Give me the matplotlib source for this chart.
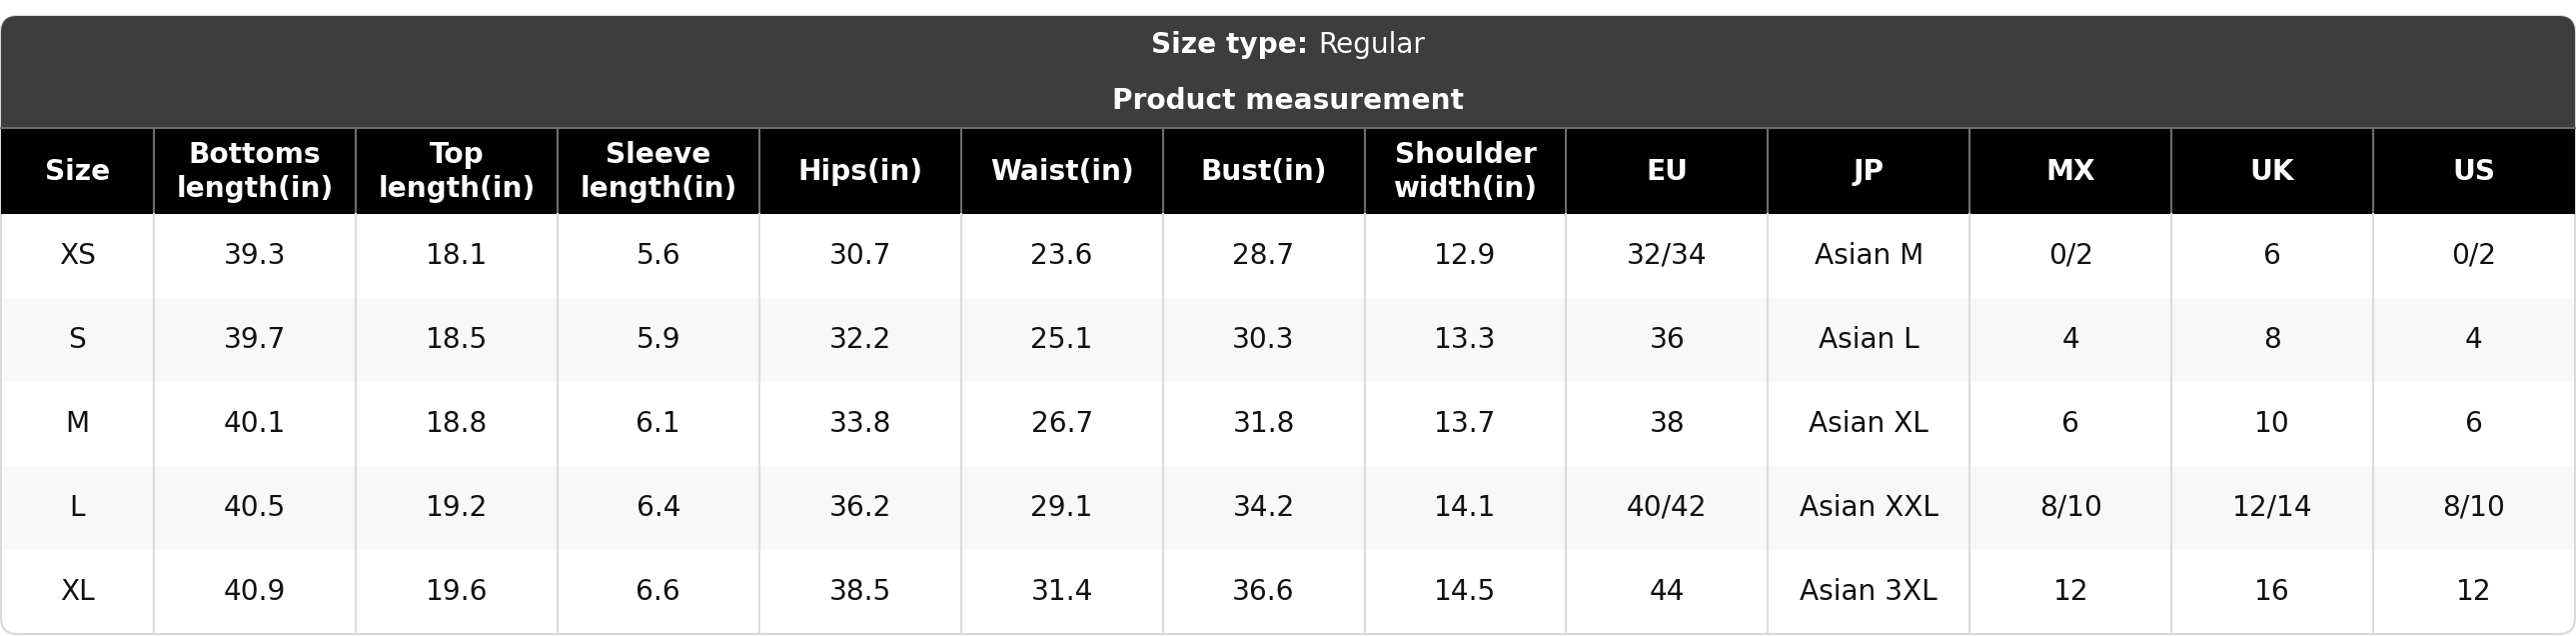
import matplotlib
matplotlib.use("Agg")
import matplotlib.pyplot as plt
from matplotlib.patches import Rectangle, FancyBboxPatch

# table content
size_type = "Regular"
section_title = "Product measurement"
columns = ["Size", "Bottoms\nlength(in)", "Top\nlength(in)", "Sleeve\nlength(in)",
           "Hips(in)", "Waist(in)", "Bust(in)", "Shoulder\nwidth(in)",
           "EU", "JP", "MX", "UK", "US"]
sizes = ["XS", "S", "M", "L", "XL"]
bottoms_length = [39.3, 39.7, 40.1, 40.5, 40.9]
top_length = [18.1, 18.5, 18.8, 19.2, 19.6]
sleeve_length = [5.6, 5.9, 6.1, 6.4, 6.6]
hips = [30.7, 32.2, 33.8, 36.2, 38.5]
waist = [23.6, 25.1, 26.7, 29.1, 31.4]
bust = [28.7, 30.3, 31.8, 34.2, 36.6]
shoulder_width = [12.9, 13.3, 13.7, 14.1, 14.5]
eu = ["32/34", "36", "38", "40/42", "44"]
jp = ["Asian M", "Asian L", "Asian XL", "Asian XXL", "Asian 3XL"]
mx = ["0/2", "4", "6", "8/10", "12"]
uk = ["6", "8", "10", "12/14", "16"]
us = ["0/2", "4", "6", "8/10", "12"]

# layout (pixels)
W, H = 2578, 636
left, right = 1, 2577
top, head_top, head_bot, bottom = 16, 128, 214, 634
first_w = 153
radius = 16
fs = 20.2

n_cols = len(columns)
other_w = (right - left - first_w) / (n_cols - 1)
edges = [left, left + first_w] + [left + first_w + other_w * i for i in range(1, n_cols)]
row_h = (bottom - head_bot) / len(sizes)

rows = []
for i in range(len(sizes)):
    rows.append([sizes[i], f"{bottoms_length[i]:.1f}", f"{top_length[i]:.1f}",
                 f"{sleeve_length[i]:.1f}", f"{hips[i]:.1f}", f"{waist[i]:.1f}",
                 f"{bust[i]:.1f}", f"{shoulder_width[i]:.1f}",
                 eu[i], jp[i], mx[i], uk[i], us[i]])

fig = plt.figure(figsize=(W / 100, H / 100), dpi=100)
ax = fig.add_axes([0, 0, 1, 1])
ax.set_xlim(0, W)
ax.set_ylim(H, 0)
ax.axis("off")

# outer rounded card (white, light border)
ax.add_patch(FancyBboxPatch((left + radius, top + radius), right - left - 2 * radius,
                            bottom - top - 2 * radius,
                            boxstyle=f"round,pad={radius}", fc="white", ec="#d9d9d9",
                            lw=1.5, zorder=1))
# dark title band with rounded top
ax.add_patch(FancyBboxPatch((left + radius, top + radius), right - left - 2 * radius,
                            head_bot - top - 2 * radius,
                            boxstyle=f"round,pad={radius}", fc="#3d3d3d", ec="none",
                            zorder=2))
# header row
ax.add_patch(Rectangle((left, head_top), right - left, head_bot - head_top,
                       fc="black", ec="none", zorder=3))
ax.plot([left, right], [head_top, head_top], color="#6e6e6e", lw=1.5, zorder=4)

# striped rows
for i in range(len(sizes)):
    if i % 2 == 1:
        y0 = head_bot + i * row_h
        ax.add_patch(Rectangle((left + 1.5, y0), right - left - 3, row_h, fc="#f8f8f8",
                               ec="none", zorder=3))

# vertical grid lines
for x in edges[1:-1]:
    ax.plot([x, x], [head_top, head_bot], color="#6e6e6e", lw=1.5, zorder=4)
    ax.plot([x, x], [head_bot, bottom], color="#dcdcdc", lw=1.5, zorder=4)

# titles
cx = (left + right) / 2
t1 = ax.text(0, 53, "Size type: ", color="white", fontsize=fs, fontweight="bold",
             ha="left", va="baseline", zorder=5)
t2 = ax.text(0, 53, size_type, color="white", fontsize=fs, ha="left", va="baseline",
             zorder=5)
r = fig.canvas.get_renderer()
w1 = t1.get_window_extent(r).width
w2 = t2.get_window_extent(r).width
t1.set_x(cx - (w1 + w2) / 2)
t2.set_x(cx - (w1 + w2) / 2 + w1)
ax.text(cx, 109, section_title, color="white", fontsize=fs, fontweight="bold",
        ha="center", va="baseline", zorder=5)

# header labels
for j, name in enumerate(columns):
    xc = (edges[j] + edges[j + 1]) / 2
    ax.text(xc, (head_top + head_bot) / 2 + 1, name, color="white", fontsize=fs,
            fontweight="bold", ha="center", va="center", linespacing=1.3,
            multialignment="center", zorder=5)

# cells
for i, row in enumerate(rows):
    yc = head_bot + (i + 0.5) * row_h
    for j, val in enumerate(row):
        xc = (edges[j] + edges[j + 1]) / 2
        ax.text(xc, yc, val, color="#111111", fontsize=fs, ha="center",
                va="center", zorder=5)

fig.savefig("out.png", dpi=100)
